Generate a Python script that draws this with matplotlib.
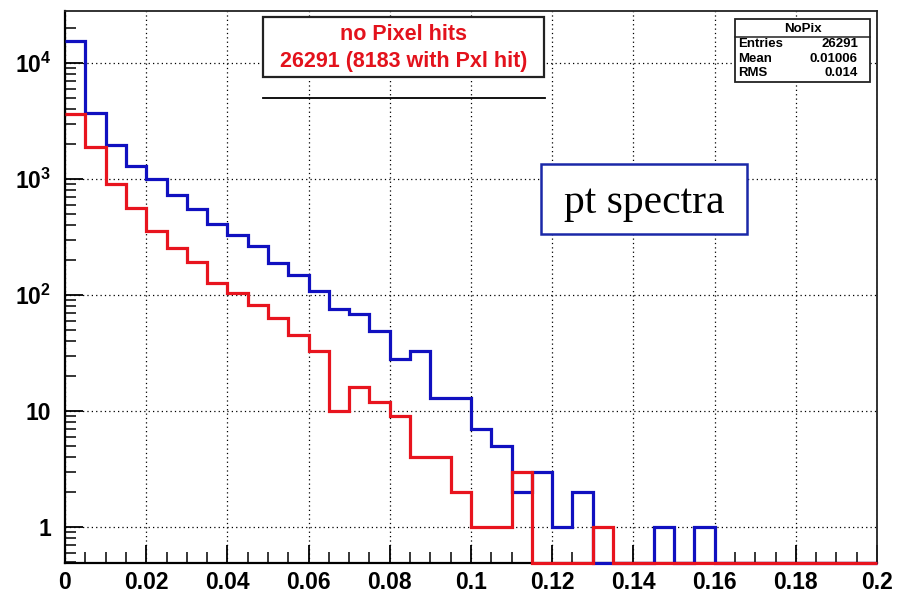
import numpy as np
import matplotlib
matplotlib.use("Agg")
import matplotlib.pyplot as plt
from matplotlib.patches import Rectangle
from matplotlib.lines import Line2D
from matplotlib.ticker import FixedLocator, FixedFormatter, LogLocator, NullFormatter

plt.rcParams['mathtext.fontset'] = 'custom'
plt.rcParams['mathtext.rm'] = 'Liberation Sans:bold'
plt.rcParams['mathtext.bf'] = 'Liberation Sans:bold'
plt.rcParams['mathtext.it'] = 'Liberation Sans:bold'

# ---- data ----
bin_width = 0.005
n_bins = 40
no_pix_counts = [15300, 3730, 1960, 1280, 990, 733, 556, 405, 326, 264,
                 190, 148, 108, 76, 69, 49, 28, 33, 13, 13,
                 7, 5, 2, 3, 1, 2, 0, 0, 0, 1,
                 0, 1, 0, 0, 0, 0, 0, 0, 0, 0]
pxl_hit_counts = [3650, 1880, 905, 559, 356, 253, 192, 128, 105, 82,
                  63, 45, 33, 10, 16, 12, 9, 4, 4, 2,
                  1, 1, 3, 0, 0, 0, 1, 0, 0, 0,
                  0, 0, 0, 0, 0, 0, 0, 0, 0, 0]
x_ticks = [0, 0.02, 0.04, 0.06, 0.08, 0.1, 0.12, 0.14, 0.16, 0.18, 0.2]
x_tick_labels = ['0', '0.02', '0.04', '0.06', '0.08', '0.1', '0.12', '0.14', '0.16', '0.18', '0.2']
y_ticks = [1, 10, 100, 1000, 10000]
y_tick_labels = ['1', '10', r'$\mathbf{10^{2}}$', r'$\mathbf{10^{3}}$', r'$\mathbf{10^{4}}$']
title_lines = ['no Pixel hits', '26291 (8183 with Pxl hit)']
stats_name = 'NoPix'
stats_rows = [('Entries', '26291'), ('Mean', '0.01006'), ('RMS', '0.014')]
annotation = 'pt spectra'

W, H = 904, 599
fig = plt.figure(figsize=(W / 100, H / 100), dpi=100)
fig.patch.set_facecolor('white')

def fx(px):
    return px / W

def fy(py):
    return 1 - py / H

ax_l, ax_r, ax_t, ax_b = 65, 877, 11, 563
ax = fig.add_axes([fx(ax_l), fy(ax_b), fx(ax_r) - fx(ax_l), fy(ax_t) - fy(ax_b)])

ymin, ymax = 0.49, 28000
edges = np.arange(n_bins + 1) * bin_width
blue = np.array(no_pix_counts, dtype=float)
red = np.array(pxl_hit_counts, dtype=float)
blue_plot = np.where(blue > 0, blue, ymin)
red_plot = np.where(red > 0, red, ymin)

ax.set_yscale('log')
ax.set_xlim(0, 0.2)
ax.set_ylim(ymin, ymax)

ax.stairs(blue_plot, edges, baseline=None, color='#1010c0', linewidth=2.3, clip_on=False, zorder=3)
ax.stairs(red_plot, edges, baseline=None, color='#e8141e', linewidth=2.3, clip_on=False, zorder=4)

# grid
ax.grid(True, which='major', color='black', linestyle=(0, (1, 2.5)), linewidth=0.9, zorder=1)

# ticks
ax.xaxis.set_major_locator(FixedLocator(x_ticks))
ax.xaxis.set_major_formatter(FixedFormatter(x_tick_labels))
ax.xaxis.set_minor_locator(FixedLocator(np.arange(0, 0.2001, 0.005)))
ax.yaxis.set_major_locator(FixedLocator(y_ticks))
ax.yaxis.set_major_formatter(FixedFormatter(y_tick_labels))
ax.yaxis.set_minor_locator(LogLocator(base=10, subs=np.arange(2, 10), numticks=20))
ax.yaxis.set_minor_formatter(NullFormatter())

ax.tick_params(axis='both', which='major', direction='in', length=13, width=1.3, color='black')
ax.tick_params(axis='both', which='minor', direction='in', length=8, width=1.1, color='black')
ax.tick_params(axis='x', which='both', top=False)
ax.tick_params(axis='y', which='both', right=False)
ax.tick_params(axis='x', which='major', pad=6)
ax.tick_params(axis='y', which='major', pad=10)
for lab in ax.get_xticklabels() + ax.get_yticklabels():
    lab.set_fontfamily('Liberation Sans')
    lab.set_fontweight('bold')
    lab.set_fontsize(16.5)

for side in ['left', 'bottom']:
    ax.spines[side].set_linewidth(1.6)
    ax.spines[side].set_color('black')
for side in ['top', 'right']:
    ax.spines[side].set_linewidth(1.3)
    ax.spines[side].set_color('#222222')

# title box
tb_l, tb_r, tb_t, tb_b = 263, 544, 17, 77
fig.patches.append(Rectangle((fx(tb_l), fy(tb_b)), fx(tb_r) - fx(tb_l), fy(tb_t) - fy(tb_b),
                             transform=fig.transFigure, facecolor='white', edgecolor='#222222',
                             linewidth=1.6, zorder=5))
fig.text(fx((tb_l + tb_r) / 2), fy(34), title_lines[0], color='#e3121c', fontsize=15.5,
         fontweight='bold', family='Liberation Sans', ha='center', va='center', zorder=6)
fig.text(fx((tb_l + tb_r) / 2), fy(61), title_lines[1], color='#e3121c', fontsize=15.5,
         fontweight='bold', family='Liberation Sans', ha='center', va='center', zorder=6)
fig.lines.append(Line2D([fx(263), fx(545)], [fy(98), fy(98)], transform=fig.transFigure,
                        color='black', linewidth=1.3, zorder=5))

# stats box
sb_l, sb_r, sb_t, sb_b = 735, 870, 19, 82
fig.patches.append(Rectangle((fx(sb_l), fy(sb_b)), fx(sb_r) - fx(sb_l), fy(sb_t) - fy(sb_b),
                             transform=fig.transFigure, facecolor='white', edgecolor='#222222',
                             linewidth=1.3, zorder=5))
fig.lines.append(Line2D([fx(sb_l), fx(sb_r)], [fy(37), fy(37)], transform=fig.transFigure,
                        color='#222222', linewidth=1.1, zorder=6))
fig.text(fx((sb_l + sb_r) / 2), fy(28.5), stats_name, fontsize=9.5, fontweight='bold',
         family='Liberation Sans', ha='center', va='center', zorder=6)
row_y = [44, 59, 73.5]
for (name, val), yy in zip(stats_rows, row_y):
    fig.text(fx(738), fy(yy), name, fontsize=9.5, fontweight='bold', family='Liberation Sans',
             ha='left', va='center', zorder=6)
    fig.text(fx(858), fy(yy), val, fontsize=9.5, fontweight='bold', family='Liberation Sans',
             ha='right', va='center', zorder=6)

# pt spectra box
pb_l, pb_r, pb_t, pb_b = 541, 747, 164, 234
fig.patches.append(Rectangle((fx(pb_l), fy(pb_b)), fx(pb_r) - fx(pb_l), fy(pb_t) - fy(pb_b),
                             transform=fig.transFigure, facecolor='white', edgecolor='#1a28a8',
                             linewidth=1.8, zorder=5))
fig.text(fx((pb_l + pb_r) / 2), fy(203), annotation, fontsize=30, family='Liberation Serif',
         ha='center', va='center', zorder=6)

fig.savefig('out.png', dpi=100, facecolor='white')
